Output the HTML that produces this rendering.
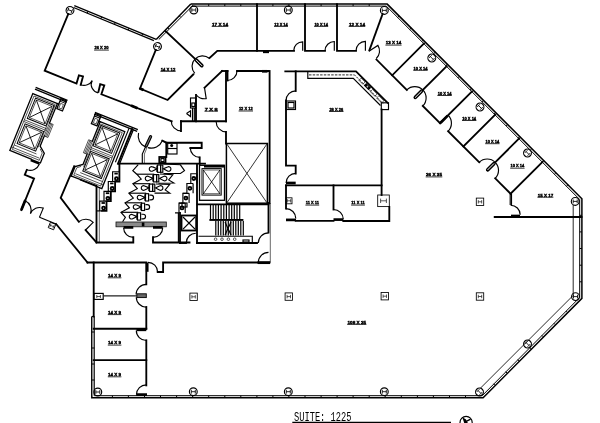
<!DOCTYPE html>
<html><head><meta charset="utf-8"><title>Suite 1225 floor plan</title>
<style>
html,body{margin:0;padding:0;background:#fff;overflow:hidden}
svg{display:block;filter:grayscale(1)}
.w{stroke:#000;stroke-width:1.85;fill:none;stroke-linecap:square;stroke-linejoin:miter}
.k{stroke:#000;stroke-width:2.7;fill:none;stroke-linecap:butt}
.t{stroke:#000;stroke-width:1.15;fill:none}
.g{stroke:#111;stroke-width:0.9;fill:none}
.d{stroke:#000;stroke-width:1.25;fill:none}
.e{stroke:#000;stroke-width:1.5;fill:none;stroke-linejoin:miter}
.d2{stroke:#000;stroke-width:1.0;fill:none}
.t2{stroke:#222;stroke-width:1.2;fill:none}
.bw{stroke:#000;stroke-width:1.3;fill:none;stroke-linecap:square}
.bc{stroke:#000;stroke-width:1.0;fill:none}
.bt{stroke:#000;stroke-width:0.6;fill:none}
.bx{stroke:#000;stroke-width:0.8;fill:none}
.st{stroke:#000;stroke-width:1.15;fill:none;stroke-linejoin:miter}
.hc{stroke:#000;stroke-width:0.85;fill:none}
.hs{stroke:#555;stroke-width:1.2;fill:none}
.sq{stroke:#000;stroke-width:0.85;fill:none}
.m{stroke:#000;stroke-width:1;fill:none}
.h{stroke:#111;stroke-width:0.7;fill:none}
.s{stroke:#000;stroke-width:1.2;fill:none}
.lb{font-family:"Liberation Sans",sans-serif;font-weight:bold;fill:#000;stroke:#000;stroke-width:0.4;text-anchor:middle;letter-spacing:0}
.ti{font-family:"Liberation Mono","Liberation Sans",monospace;fill:#000}
</style></head><body>
<svg width="600" height="423" viewBox="0 0 600 423">
<rect width="600" height="423" fill="#fff"/>
<path class="d" d="M74.3 5.7 L156.2 39.4" />
<path class="d" d="M73.5 7.5 L153.9 40.6" />
<path class="m" d="M87.9 11.3 L87.2 13.2"/>
<path class="m" d="M101.6 16.9 L100.8 18.8"/>
<path class="m" d="M115.2 22.5 L114.5 24.4"/>
<path class="m" d="M128.9 28.2 L128.1 30.0"/>
<path class="m" d="M142.6 33.8 L141.8 35.6"/>
<path class="e" d="M156.2 39.4 L190.8 4.1" />
<path class="d2" d="M158.8 39.5 L193.0 5.4" />
<path class="m" d="M167.7 27.6 L169.1 29.0"/>
<path class="m" d="M179.3 15.9 L180.6 17.2"/>
<path class="e" d="M190.8 4.1 L387.2 4.1 L581.9 198.7 L581.9 298.4 L483.1 397.8 L91.8 397.8 L91.8 316.5" />
<path class="d2" d="M191.8 6.1 L386.3 6.1 L579.7 199.5 L579.7 297.5 L482.2 395.7 L94.4 395.7 L94.4 316.5" />
<path d="M91.8 316.5 H94.4" class="d"/>
<rect x="92.2" y="317" width="2" height="78.5" fill="#999"/>
<path class="m" d="M112.4 395.7 L112.4 397.8"/>
<path class="m" d="M128.4 395.7 L128.4 397.8"/>
<path class="m" d="M144.5 395.7 L144.5 397.8"/>
<path class="m" d="M160.5 395.7 L160.5 397.8"/>
<path class="m" d="M176.6 395.7 L176.6 397.8"/>
<path class="m" d="M192.6 395.7 L192.6 397.8"/>
<path class="m" d="M208.7 4.1 L208.7 6.1"/>
<path class="m" d="M208.7 395.7 L208.7 397.8"/>
<path class="m" d="M224.8 4.1 L224.8 6.1"/>
<path class="m" d="M224.8 395.7 L224.8 397.8"/>
<path class="m" d="M240.8 4.1 L240.8 6.1"/>
<path class="m" d="M240.8 395.7 L240.8 397.8"/>
<path class="m" d="M256.9 4.1 L256.9 6.1"/>
<path class="m" d="M256.9 395.7 L256.9 397.8"/>
<path class="m" d="M272.9 4.1 L272.9 6.1"/>
<path class="m" d="M272.9 395.7 L272.9 397.8"/>
<path class="m" d="M288.9 4.1 L288.9 6.1"/>
<path class="m" d="M288.9 395.7 L288.9 397.8"/>
<path class="m" d="M305.0 4.1 L305.0 6.1"/>
<path class="m" d="M305.0 395.7 L305.0 397.8"/>
<path class="m" d="M321.1 4.1 L321.1 6.1"/>
<path class="m" d="M321.1 395.7 L321.1 397.8"/>
<path class="m" d="M337.1 4.1 L337.1 6.1"/>
<path class="m" d="M337.1 395.7 L337.1 397.8"/>
<path class="m" d="M353.1 4.1 L353.1 6.1"/>
<path class="m" d="M353.1 395.7 L353.1 397.8"/>
<path class="m" d="M369.2 4.1 L369.2 6.1"/>
<path class="m" d="M369.2 395.7 L369.2 397.8"/>
<path class="m" d="M385.2 395.7 L385.2 397.8"/>
<path class="m" d="M401.3 395.7 L401.3 397.8"/>
<path class="m" d="M417.4 395.7 L417.4 397.8"/>
<path class="m" d="M433.4 395.7 L433.4 397.8"/>
<path class="m" d="M449.5 395.7 L449.5 397.8"/>
<path class="m" d="M465.5 395.7 L465.5 397.8"/>
<path class="m" d="M399.1 16.0 L397.7 17.4"/>
<path class="m" d="M411.2 28.1 L409.7 29.5"/>
<path class="m" d="M423.2 40.1 L421.8 41.6"/>
<path class="m" d="M435.3 52.2 L433.8 53.6"/>
<path class="m" d="M447.3 64.2 L445.9 65.7"/>
<path class="m" d="M459.4 76.3 L458.0 77.8"/>
<path class="m" d="M471.5 88.4 L470.0 89.8"/>
<path class="m" d="M483.5 100.4 L482.1 101.9"/>
<path class="m" d="M495.6 112.5 L494.1 113.9"/>
<path class="m" d="M507.6 124.5 L506.2 126.0"/>
<path class="m" d="M519.7 136.6 L518.2 138.1"/>
<path class="m" d="M531.8 148.7 L530.3 150.1"/>
<path class="m" d="M543.8 160.7 L542.4 162.2"/>
<path class="m" d="M555.9 172.8 L554.4 174.2"/>
<path class="m" d="M567.9 184.8 L566.5 186.3"/>
<path class="m" d="M581.9 215.3 L579.7 215.3"/>
<path class="m" d="M581.9 231.9 L579.7 231.9"/>
<path class="m" d="M581.9 248.5 L579.7 248.5"/>
<path class="m" d="M581.9 265.2 L579.7 265.2"/>
<path class="m" d="M581.9 281.8 L579.7 281.8"/>
<path class="m" d="M495.0 385.3 L493.6 383.8"/>
<path class="m" d="M507.1 373.2 L505.7 371.7"/>
<path class="m" d="M519.2 361.1 L517.8 359.6"/>
<path class="m" d="M531.3 349.0 L529.8 347.6"/>
<path class="m" d="M543.4 336.9 L541.9 335.4"/>
<path class="m" d="M555.5 324.8 L554.0 323.3"/>
<path class="m" d="M567.6 312.7 L566.1 311.2"/>
<path class="m" d="M91.8 332.0 L94.4 332.0"/>
<path class="m" d="M91.8 348.0 L94.4 348.0"/>
<path class="m" d="M91.8 364.0 L94.4 364.0"/>
<path class="m" d="M91.8 380.0 L94.4 380.0"/>
<path class="g" d="M573.2 205.0 L573.2 295.4 L480.5 388.1" />
<g transform="translate(70.0 10.4) rotate(22)"><circle class="t" r="3.9" fill="#fff"/><path class="hc" d="M-2 -1.9V1.9M2 -1.9V1.9M-2 0H2"/></g>
<g transform="translate(157.5 46.5) rotate(22)"><circle class="t" r="3.9" fill="#fff"/><path class="hc" d="M-2 -1.9V1.9M2 -1.9V1.9M-2 0H2"/></g>
<g transform="translate(193.8 10.0) rotate(0)"><circle class="t" r="3.9" fill="#fff"/><path class="hc" d="M-2 -1.9V1.9M2 -1.9V1.9M-2 0H2"/></g>
<g transform="translate(288.3 10.0) rotate(0)"><circle class="t" r="3.9" fill="#fff"/><path class="hc" d="M-2 -1.9V1.9M2 -1.9V1.9M-2 0H2"/></g>
<g transform="translate(384.3 10.4) rotate(0)"><circle class="t" r="3.9" fill="#fff"/><path class="hc" d="M-2 -1.9V1.9M2 -1.9V1.9M-2 0H2"/></g>
<g transform="translate(431.8 58.0) rotate(45)"><circle class="t" r="3.9" fill="#fff"/><path class="hc" d="M-2 -1.9V1.9M2 -1.9V1.9M-2 0H2"/></g>
<g transform="translate(480.0 107.0) rotate(45)"><circle class="t" r="3.9" fill="#fff"/><path class="hc" d="M-2 -1.9V1.9M2 -1.9V1.9M-2 0H2"/></g>
<g transform="translate(527.5 153.0) rotate(45)"><circle class="t" r="3.9" fill="#fff"/><path class="hc" d="M-2 -1.9V1.9M2 -1.9V1.9M-2 0H2"/></g>
<g transform="translate(575.2 201.4) rotate(0)"><circle class="t" r="3.9" fill="#fff"/><path class="hc" d="M-2 -1.9V1.9M2 -1.9V1.9M-2 0H2"/></g>
<g transform="translate(575.5 296.6) rotate(0)"><circle class="t" r="3.9" fill="#fff"/><path class="hc" d="M-2 -1.9V1.9M2 -1.9V1.9M-2 0H2"/></g>
<g transform="translate(527.5 344.0) rotate(45)"><circle class="t" r="3.9" fill="#fff"/><path class="hc" d="M-2 -1.9V1.9M2 -1.9V1.9M-2 0H2"/></g>
<g transform="translate(479.5 392.0) rotate(45)"><circle class="t" r="3.9" fill="#fff"/><path class="hc" d="M-2 -1.9V1.9M2 -1.9V1.9M-2 0H2"/></g>
<g transform="translate(384.3 391.7) rotate(0)"><circle class="t" r="3.9" fill="#fff"/><path class="hc" d="M-2 -1.9V1.9M2 -1.9V1.9M-2 0H2"/></g>
<g transform="translate(288.3 391.7) rotate(0)"><circle class="t" r="3.9" fill="#fff"/><path class="hc" d="M-2 -1.9V1.9M2 -1.9V1.9M-2 0H2"/></g>
<g transform="translate(193.3 391.7) rotate(0)"><circle class="t" r="3.9" fill="#fff"/><path class="hc" d="M-2 -1.9V1.9M2 -1.9V1.9M-2 0H2"/></g>
<g transform="translate(97.8 392.0) rotate(0)"><circle class="t" r="3.9" fill="#fff"/><path class="hc" d="M-2 -1.9V1.9M2 -1.9V1.9M-2 0H2"/></g>
<g transform="translate(193.6 296.8) rotate(0)"><rect class="sq" x="-3.7" y="-3.7" width="7.4" height="7.4" fill="#fff"/><path class="h" d="M-1.7 -1.7V1.7M1.7 -1.7V1.7M-1.7 0H1.7"/></g>
<g transform="translate(288.8 296.6) rotate(0)"><rect class="sq" x="-3.7" y="-3.7" width="7.4" height="7.4" fill="#fff"/><path class="h" d="M-1.7 -1.7V1.7M1.7 -1.7V1.7M-1.7 0H1.7"/></g>
<g transform="translate(384.8 296.2) rotate(0)"><rect class="sq" x="-3.7" y="-3.7" width="7.4" height="7.4" fill="#fff"/><path class="h" d="M-1.7 -1.7V1.7M1.7 -1.7V1.7M-1.7 0H1.7"/></g>
<g transform="translate(480.0 296.5) rotate(0)"><rect class="sq" x="-3.7" y="-3.7" width="7.4" height="7.4" fill="#fff"/><path class="h" d="M-1.7 -1.7V1.7M1.7 -1.7V1.7M-1.7 0H1.7"/></g>
<g transform="translate(480.0 201.8) rotate(0)"><rect class="sq" x="-3.7" y="-3.7" width="7.4" height="7.4" fill="#fff"/><path class="h" d="M-1.7 -1.7V1.7M1.7 -1.7V1.7M-1.7 0H1.7"/></g>
<g transform="translate(383.5 200.8) rotate(0)"><rect class="sq" x="-5.8" y="-5.8" width="11.6" height="11.6" fill="#fff"/><path class="h" d="M-2.9 -2.2V2.2M2.9 -2.2V2.2M-2.9 0H2.9"/></g>
<g transform="translate(289.0 200.8) rotate(0)"><rect class="sq" x="-3" y="-3" width="6" height="6" fill="#fff"/><path class="h" d="M-1.7 -1.7V1.7M1.7 -1.7V1.7M-1.7 0H1.7"/></g>
<rect class="t" x="93.9" y="293.4" width="9.3" height="6" fill="#fff"/><path class="h" d="M96.8 295V298M100.4 295V298M96.8 296.5H100.4"/>
<path class="w" d="M68.3 14.0 L44.7 70.7 L76.5 83.6 L78.9 75.4 L83.0 76.4 L80.7 84.8" />
<path class="w" d="M98.4 91.9 L100.2 84.2 L104.3 85.4 L101.4 94.3 L171.7 121.3" />
<path class="t" d="M80.7 84.8 A9.6 9.6 0 0 0 92.3 80.6"/>
<path class="t" d="M98.2 92.9 A8.8 8.8 0 0 1 92.0 80.7"/>
<path class="k" d="M131.0 105.6 L137.5 108.2"/>
<path class="w" d="M155.8 50.0 L140.0 88.5 L167.6 100.0 L193.3 74.4" />
<path class="k" d="M139.5 88.3 L143.5 90.0"/>
<path class="w" d="M165.4 31.0 L196.0 59.8" />
<path d="M196.2 60.0 L201.8 65.6" stroke="#000" stroke-width="3.7" stroke-linecap="round" fill="none"/>
<path d="M196.2 60.0 L201.8 65.6" stroke="#fff" stroke-width="1.0" stroke-linecap="round" fill="none"/>
<path class="t" d="M195.1 58.9 A10.4 10.4 0 0 1 209.2 58.3"/>
<path class="t" d="M195.1 58.9 A10.4 10.4 0 0 0 194.8 73.3"/>
<path class="w" d="M209.6 58.0 L217.3 50.8 L294.0 50.8" />
<path class="w" d="M257.0 4.1 L257.0 50.8"/>
<path class="k" d="M263.0 51.8 L269.0 51.8"/>
<path class="t" d="M293.7 50.8 A9 9 0 0 1 302.7 41.8 L302.7 50.8"/>
<path class="w" d="M305.0 4.1 L305.0 50.8 L325.0 50.8" />
<path class="t" d="M325.0 50.8 A9.3 9.3 0 0 1 334.3 41.5 L334.3 50.8"/>
<path class="w" d="M337.0 4.1 L337.0 50.8 L356.0 50.8" />
<path class="t" d="M356.0 50.8 A9.4 9.4 0 0 1 365.4 41.4 L365.4 50.8"/>
<path class="w" d="M382.6 14.0 L369.3 50.5" />
<path class="t" d="M376.3 58.5 A10.3 10.3 0 0 0 377.9 45.4 L369.3 51.0"/>
<path class="w" d="M376.5 59.6 L406.8 89.9" />
<path class="w" d="M422.8 105.9 L440.1 123.2" />
<path class="w" d="M448.1 131.2 L479.2 162.3" />
<path class="w" d="M495.2 178.3 L510.6 193.7" />
<path class="w" d="M392.2 75.3 L423.9 43.6" />
<path class="w" d="M414.8 97.9 L446.6 66.2" />
<path class="w" d="M440.1 123.2 L471.9 91.5" />
<path class="w" d="M463.4 146.5 L495.1 114.8" />
<path class="w" d="M487.2 170.3 L519.0 138.6" />
<path class="w" d="M510.6 193.7 L542.4 162.0" />
<path d="M415.4 97.3 L421.4 91.3" stroke="#000" stroke-width="3.7" stroke-linecap="round" fill="none"/>
<path d="M415.4 97.3 L421.4 91.3" stroke="#fff" stroke-width="1.0" stroke-linecap="round" fill="none"/>
<path class="t" d="M406.8 89.9 A11.3 11.3 0 0 1 422.8 89.9"/>
<path class="t" d="M422.8 105.9 A11.3 11.3 0 0 0 422.8 89.9"/>
<path d="M487.8 169.7 L493.8 163.7" stroke="#000" stroke-width="3.7" stroke-linecap="round" fill="none"/>
<path d="M487.8 169.7 L493.8 163.7" stroke="#fff" stroke-width="1.0" stroke-linecap="round" fill="none"/>
<path class="t" d="M479.2 162.3 A11.3 11.3 0 0 1 495.2 162.3"/>
<path class="t" d="M495.2 178.3 A11.3 11.3 0 0 0 495.2 162.3"/>
<path class="k" d="M440.6 122.7 L447.7 115.6"/>
<path class="t" d="M448.1 131.2 A11.3 11.3 0 0 0 448.1 115.2"/>
<path class="t" d="M510.2 193.7 L510.2 205.0" />
<path class="t" d="M511.5 193.7 L511.5 205.0" />
<path class="t" d="M510.6 205.2 A9.6 9.6 0 0 1 520.2 214.8"/>
<path class="k" d="M511.0 216.0 L520.0 216.0"/>
<path class="w" d="M494.7 217.0 L581.5 217.0"/>
<path class="w" d="M285.3 71.3 L356.0 71.3 L387.5 102.8" />
<path class="w" d="M295.7 71.3 L295.7 91.0" />
<path class="t" d="M295.7 90.9 A9.6 9.6 0 0 0 286.1 100.5"/>
<path class="w" d="M286.0 100.5 L286.0 165.6 L295.7 165.6 L295.7 173.5" />
<rect class="t" x="286" y="101" width="9.5" height="8.5"/><rect class="t" x="288" y="102.5" width="6" height="5.5"/>
<path class="t" d="M295.7 173.3 A9.6 9.6 0 0 0 286.1 182.9"/>
<path class="k" d="M286.0 183.0 L295.7 183.0"/>
<path class="w" d="M286.0 185.4 L381.6 185.4" />
<path class="w" d="M381.6 109.5 L381.6 195.0" />
<rect class="t" x="381.3" y="102.8" width="7.2" height="6.8" fill="#fff"/>
<path class="t" d="M307.8 71.3 L307.8 78.3 L353.3 78.3 L380.5 105.5" />
<path class="g" stroke-dasharray="2.5 1.2" d="M309 74.9 H354.5 L383 103.5"/>
<g transform="translate(356 71.3) rotate(45)"><rect class="bt" x="8.5" y="1.1" width="5.5" height="3.2" fill="#fff"/><rect x="15.5" y="0.9" width="6.8" height="3.6" fill="#000"/><circle cx="18.9" cy="2.7" r="0.9" fill="#bbb"/><rect class="bt" x="24.5" y="1.1" width="6.5" height="3.2" fill="#fff"/><rect class="bt" x="33.5" y="1.1" width="7" height="3.2" fill="#fff"/></g>
<path class="w" d="M286.0 185.4 L286.0 208.5" />
<path class="t" d="M286.0 208.6 A9.8 9.8 0 0 1 295.8 218.4"/>
<path class="k" d="M286.0 219.9 L296.0 219.9"/>
<path class="w" d="M295.7 220.8 L333.5 220.8" />
<path class="w" d="M333.5 185.4 L333.5 209.5" />
<path class="t" d="M333.5 209.5 A9.8 9.8 0 0 1 343.3 219.3"/>
<path class="k" d="M333.5 219.6 L343.3 219.6" />
<path class="w" d="M343.3 221.0 L389.3 221.0 L389.3 206.8" />
<path class="w" d="M237.0 71.0 L268.5 71.0" />
<path class="k" d="M262.0 71.3 L267.5 71.3"/>
<path class="w" d="M269.6 71.0 L269.6 203.0" />
<path class="w" d="M268.5 203.0 L268.5 232.5" />
<path class="bt" d="M270.3 203.0 L270.3 262.5" />
<path class="w" d="M226.0 71.0 L226.0 121.2" />
<path class="w" d="M226.0 132.0 L226.0 143.5" />
<path class="w" d="M222.0 71.0 L227.5 71.0" />
<path class="w" d="M222.0 71.0 L204.5 87.7" />
<path class="w" d="M227.5 71.0 L227.5 80.5" />
<path class="t" d="M227.5 80.5 A9.5 9.5 0 0 0 237.0 71.0"/>
<path class="t" d="M196.6 95.3 A11 11 0 0 0 206.2 98.6 L204.5 87.7"/>
<path class="w" d="M196.0 95.0 L196.0 121.2" />
<path class="w" d="M181.0 121.2 L226.0 121.2" />
<path class="w" d="M181.0 121.2 L181.0 131.0" />
<path class="t" d="M181.0 130.8 A9.8 9.8 0 0 1 171.2 121.0"/>
<rect class="t" x="190.5" y="98" width="5.3" height="10"/><rect class="t" x="191.8" y="103" width="3" height="3.5"/>
<path class="t" d="M186.5 113.5 L190.5 110.8 L190.5 116.5 L186.5 113.5" />
<path class="t" d="M192.5 108.0 L192.5 121.0" />
<path class="t" d="M194.3 108.0 L194.3 121.0" />
<rect class="e" x="226.4" y="143.5" width="41" height="59.7"/>
<path class="bx" d="M227.0 144.2 L266.8 202.6" />
<path class="bx" d="M266.8 144.2 L227.0 202.6" />
<path class="t" d="M216.2 122.0 A9.8 9.8 0 0 0 226.0 131.8"/>
<rect class="bw" x="199.5" y="165.3" width="25" height="35"/>
<rect class="bc" x="202" y="168.6" width="19.2" height="26.5"/>
<rect class="bt" x="203.3" y="170" width="16.6" height="23.8"/>
<path class="bx" d="M203.3 170.0 L219.9 193.8" />
<path class="bx" d="M219.9 170.0 L203.3 193.8" />
<path class="k" d="M204.0 166.2 L224.5 166.2"/>
<path class="w" d="M162.3 140.7 L166.3 142.7 L201.7 142.7 L201.7 148.0 L190.3 148.0" />
<path class="w" d="M166.3 142.7 L166.3 157.0" />
<path class="t" d="M190.3 148.0 A9.4 9.4 0 0 0 199.7 157.4"/>
<path class="w" d="M199.7 157.4 L199.7 164.0" />
<rect class="t" x="167.7" y="143" width="9.3" height="11"/>
<path class="t" d="M167.7 148.5 H177"/>
<circle cx="171.7" cy="145.4" r="1.5" fill="#000"/>
<rect class="w" x="159.3" y="157" width="6.2" height="6"/>
<rect class="t" x="161" y="158.6" width="3" height="3"/>
<path class="t" d="M138.6 133 A11.8 11.8 0 0 0 145.4 146.9 M148 147.6 A11.8 11.8 0 0 0 162.3 140.7"/>
<path d="M150.6 136.6 L146.2 146" stroke="#000" stroke-width="3.2" stroke-linecap="round" fill="none"/>
<path d="M150.6 136.6 L146.2 146" stroke="#fff" stroke-width="0.5" stroke-linecap="round" fill="none"/>
<path class="st" d="M145.6 146.7 L142.3 154.0 L142.3 163.5" />
<path class="bt" d="M147.0 147.5 L144.4 154.0 L144.4 163.5" />
<path class="w" d="M118.5 163.6 L205.0 163.6" />
<path class="w" d="M119.4 163.6 L119.4 181.5 L115.1 181.5 L115.1 191.3 L110.8 191.3 L110.8 201.1 L106.5 201.1 L106.5 210.9 L102.2 210.9" />
<path class="st" d="M119.4 171.7 H112.6 V181.5"/>
<circle class="w" cx="116.5" cy="178.7" r="1.5"/>
<rect x="114.4" y="172.7" width="3.4" height="1.8" fill="#000"/>
<path class="st" d="M115.1 181.5 H108.3 V191.3"/>
<circle class="w" cx="112.2" cy="188.5" r="1.5"/>
<rect x="110.1" y="182.5" width="3.4" height="1.8" fill="#000"/>
<path class="st" d="M110.8 191.3 H104.0 V201.1"/>
<circle class="w" cx="107.9" cy="198.3" r="1.5"/>
<rect x="105.8" y="192.3" width="3.4" height="1.8" fill="#000"/>
<path class="st" d="M106.5 201.1 H99.7 V210.9"/>
<circle class="w" cx="103.6" cy="208.1" r="1.5"/>
<rect x="101.5" y="202.1" width="3.4" height="1.8" fill="#000"/>
<path class="t" d="M102.2 210.9 L96.5 210.9" />
<path class="st" d="M197.0 173.7 H190.8 V183.5 H186.9"/>
<circle class="w" cx="193.8" cy="178.5" r="1.5"/>
<path class="t" d="M197.0 173.7 V183.5"/>
<path class="st" d="M193.1 183.5 H186.9 V193.3 H182.9"/>
<circle class="w" cx="189.9" cy="188.3" r="1.5"/>
<path class="t" d="M193.1 183.5 V193.3"/>
<path class="st" d="M189.1 193.3 H182.9 V203.1 H179.0"/>
<circle class="w" cx="185.9" cy="198.1" r="1.5"/>
<path class="t" d="M189.1 193.3 V203.1"/>
<path class="st" d="M185.2 203.1 H179.0 V212.9 H175.0"/>
<circle class="w" cx="182.0" cy="207.9" r="1.5"/>
<path class="t" d="M185.2 203.1 V212.9"/>
<rect class="t" x="182" y="203" width="5" height="4"/>
<path class="st" d="M138.2 164.6 L132.8 170.6 L136.8 174.2 L141.2 179.2 L132.9 183.7 L137.3 188.7 L128.9 193.2 L133.3 198.2 L125.0 202.8 L129.4 207.8 L121.0 212.3 L125.4 217.3 L122.6 221.8" />
<rect class="t" x="157.5" y="165.0" width="3.1" height="7.3"/>
<path class="st" d="M157.0 168.8 L152.7 166.9 A2.3 2.3 0 1 0 152.7 170.9 Z"/>
<path class="t" d="M156.9 165.5 V172.0"/>
<rect class="t" x="160.6" y="165.0" width="2.2" height="7.3"/>
<path class="st" d="M163.4 168.8 L167.5 166.9 A2.3 2.3 0 1 1 167.5 170.9 Z"/>
<rect class="t" x="153.5" y="174.6" width="3.1" height="7.3"/>
<path class="st" d="M153.0 178.4 L148.7 176.5 A2.3 2.3 0 1 0 148.7 180.5 Z"/>
<path class="t" d="M152.9 175.1 V181.6"/>
<path class="st" d="M136.8 174.2 H154.2"/>
<rect class="t" x="156.6" y="174.6" width="2.2" height="7.3"/>
<path class="st" d="M159.4 178.4 L163.5 176.5 A2.3 2.3 0 1 1 163.5 180.5 Z"/>
<rect class="t" x="149.5" y="184.1" width="3.1" height="7.3"/>
<path class="st" d="M149.0 187.9 L144.7 186.0 A2.3 2.3 0 1 0 144.7 190.0 Z"/>
<path class="t" d="M148.9 184.6 V191.1"/>
<path class="st" d="M132.9 183.7 H150.2"/>
<rect class="t" x="152.6" y="184.1" width="2.2" height="7.3"/>
<path class="st" d="M155.4 187.9 L159.5 186.0 A2.3 2.3 0 1 1 159.5 190.0 Z"/>
<rect class="t" x="145.5" y="193.7" width="3.1" height="7.3"/>
<path class="st" d="M145.0 197.5 L140.7 195.6 A2.3 2.3 0 1 0 140.7 199.6 Z"/>
<path class="t" d="M144.9 194.2 V200.7"/>
<path class="st" d="M128.9 193.2 H146.2"/>
<path class="st" d="M149.4 195.1 H151.2 A2.3 2.3 0 0 1 151.2 199.8 H149.4"/>
<rect class="t" x="141.5" y="203.2" width="3.1" height="7.3"/>
<path class="st" d="M141.0 207.0 L136.7 205.1 A2.3 2.3 0 1 0 136.7 209.1 Z"/>
<path class="t" d="M140.9 203.7 V210.2"/>
<path class="st" d="M125.0 202.8 H142.2"/>
<path class="st" d="M145.4 204.6 H147.2 A2.3 2.3 0 0 1 147.2 209.4 H145.4"/>
<rect class="t" x="137.5" y="212.8" width="3.1" height="7.3"/>
<path class="st" d="M137.0 216.6 L132.7 214.7 A2.3 2.3 0 1 0 132.7 218.7 Z"/>
<path class="t" d="M136.9 213.2 V219.8"/>
<path class="st" d="M121.0 212.3 H138.2"/>
<path class="st" d="M141.4 214.2 H143.2 A2.3 2.3 0 0 1 143.2 218.9 H141.4"/>
<path class="st" d="M163.5 164.0 L180.4 164.8 L184.5 170.7 L180.4 173.5 L163.5 173.5" />
<path class="st" d="M160.0 174.0 L172.8 174.8 L168.7 179.9 L173.8 183.0 L158.5 183.2" />
<path class="st" d="M156.0 184.0 L169.8 184.4 L165.2 190.0 L169.8 193.1 L154.5 193.1" />
<rect x="116" y="222" width="50.3" height="4.8" fill="#8a8a8a" stroke="#111" stroke-width="0.8"/>
<rect x="141.8" y="222.5" width="2.6" height="3.8" fill="#000"/>
<path class="k" d="M123.6 227.4 L133.3 227.4"/>
<path class="k" d="M153.0 227.4 L162.7 227.4"/>
<path class="t" d="M123.6 227.7 A9.7 9.7 0 0 0 133.3 237.4"/>
<path class="t" d="M162.7 227.7 A9.7 9.7 0 0 1 153.0 237.4"/>
<path class="w" d="M96.5 186.3 L96.5 242.5 L133.3 242.5 L133.3 237.2" />
<path class="bt" d="M99.3 188.0 L99.3 242.0" />
<path class="w" d="M153.0 237.2 L153.0 242.5 L189.5 242.5" />
<path class="w" d="M197.5 204.3 L268.5 204.3" />
<path class="w" d="M197.0 164.5 L197.0 243.0" />
<path class="w" d="M197.0 243.0 L257.0 243.0" />
<path class="t" d="M198.5 236.2 L252.3 236.2 L252.3 243.0" />
<path class="s" d="M210.5 204.8 L210.5 219.0"/>
<path class="s" d="M215.8 221.0 L215.8 235.5"/>
<path class="s" d="M213.2 204.8 L213.2 219.0"/>
<path class="s" d="M218.3 221.0 L218.3 235.5"/>
<path class="s" d="M215.8 204.8 L215.8 219.0"/>
<path class="s" d="M220.8 221.0 L220.8 235.5"/>
<path class="s" d="M218.4 204.8 L218.4 219.0"/>
<path class="s" d="M223.3 221.0 L223.3 235.5"/>
<path class="s" d="M221.1 204.8 L221.1 219.0"/>
<path class="s" d="M225.8 221.0 L225.8 235.5"/>
<path class="s" d="M223.8 204.8 L223.8 219.0"/>
<path class="s" d="M228.3 221.0 L228.3 235.5"/>
<path class="s" d="M226.4 204.8 L226.4 219.0"/>
<path class="s" d="M230.8 221.0 L230.8 235.5"/>
<path class="s" d="M229.1 204.8 L229.1 219.0"/>
<path class="s" d="M233.3 221.0 L233.3 235.5"/>
<path class="s" d="M231.7 204.8 L231.7 219.0"/>
<path class="s" d="M235.8 221.0 L235.8 235.5"/>
<path class="s" d="M234.3 204.8 L234.3 219.0"/>
<path class="s" d="M238.3 221.0 L238.3 235.5"/>
<path class="s" d="M237.0 204.8 L237.0 219.0"/>
<path class="s" d="M240.8 221.0 L240.8 235.5"/>
<path class="s" d="M239.7 204.8 L239.7 219.0"/>
<path class="s" d="M243.3 221.0 L243.3 235.5"/>
<rect x="209.4" y="219" width="34" height="1.9" fill="#000"/>
<path class="t" d="M225.0 222.0 L231.0 235.0" />
<path class="t" d="M231.0 222.0 L225.0 235.0" />
<circle class="h" cx="215.6" cy="239.2" r="1.3"/>
<circle class="h" cx="222.0" cy="239.2" r="1.3"/>
<circle class="h" cx="228.4" cy="239.2" r="1.3"/>
<circle class="h" cx="234.7" cy="239.2" r="1.3"/>
<rect class="t" x="243" y="240" width="6" height="2"/>
<path class="t" d="M258.3 243.0 A10.2 10.2 0 0 1 268.5 232.8"/>
<path class="t" d="M258.3 262.5 A10.2 10.2 0 0 1 268.5 252.3"/>
<path class="k" d="M257.5 262.7 L270.0 262.7" />
<rect class="w" x="181.5" y="215.5" width="14.7" height="15"/>
<path class="t" d="M183.0 217.0 L195.0 229.2" />
<path class="t" d="M195.0 217.0 L183.0 229.2" />
<path class="w" d="M180.0 213.0 L180.0 243.0" />
<path class="t" d="M186.3 242.7 A9.5 9.5 0 0 1 195.8 233.2"/>
<path class="w" d="M180.0 243.0 L186.0 243.0" />
<path class="t" d="M178.4 213.0 L178.4 243.0" />
<path class="w" d="M87.5 262.5 L146.3 262.5 L146.3 284.2" />
<path class="k" d="M147.2 262.5 L147.2 271.8"/>
<path class="t" d="M148.0 262.4 A9.6 9.6 0 0 1 157.6 272.0"/>
<path class="w" d="M157.7 272.0 L163.1 272.0 L163.1 262.5 L269.5 262.5" />
<path class="w" d="M93.7 262.5 L93.7 316.5" />
<path class="t2" d="M103.2 295.8 L137.0 295.8"/>
<path class="w" d="M93.7 328.7 L146.3 328.7"/>
<path class="w" d="M93.7 360.1 L146.3 360.1"/>
<rect x="136.9" y="293.8" width="9.4" height="3.8" fill="#666" stroke="#000" stroke-width="0.9"/>
<path class="t" d="M146.3 284.3 A10.2 10.2 0 0 0 136.1 294.5"/>
<path class="t" d="M136.3 297.2 A10 10 0 0 0 146.3 307.2"/>
<path class="w" d="M146.3 307.0 L146.3 328.7" />
<path class="k" d="M136.5 329.8 L146.3 329.8"/>
<path class="t" d="M136.3 330.5 A10 10 0 0 0 146.3 340.5"/>
<path class="w" d="M146.3 340.3 L146.3 385.4" />
<path class="t" d="M146.3 384.8 A9.8 9.8 0 0 0 136.5 394.6"/>
<path class="k" d="M136.2 394.6 L147.0 394.6"/>
<g transform="translate(32.8 93.6) rotate(22)">
<path class="bw" d="M1 -6.8 H34 M1 -4.9 H34"/><rect class="bw" x="28" y="-5.9" width="6" height="10.9"/><rect class="bt" x="29.5" y="-1.4" width="3" height="4.9" fill="#fff"/><path class="bc" d="M28 -3.2 H34"/><path class="bw" d="M28 0 H0 V61.3 H23"/><path class="bw" d="M26.5 0 V21 M26.5 35 V46 L33 51 V61.3"/><path class="bt" d="M2 1.8 H24.8 M2 1.8 V59.5 M25 1.8 V48 "/><path class="bt" d="M2 27.4 H26 M2 29.2 H26 M2 54.6 H26 M0.5 57.4 H30 M2 59.4 H31 M27.5 48.5 L31 51.5 V59.5"/><rect class="bc" x="4.2" y="3.1" width="20" height="21.9"/><rect class="bt" x="5.7" y="4.6" width="17" height="18.9"/><path class="bx" d="M5.7 4.6 L22.7 23.5 M22.7 4.6 L5.7 23.5"/><rect class="bc" x="4.2" y="31" width="20" height="21.2"/><rect class="bt" x="5.7" y="32.5" width="17" height="18.2"/><path class="bx" d="M5.7 32.5 L22.7 50.7 M22.7 32.5 L5.7 50.7"/><rect class="bt" x="26.5" y="21" width="4" height="14" fill="#fff"/><path class="bt" d="M27.8 21 V35 M29.1 21 V35"/>
<path class="k" d="M23 62.3 H32.5"/>
<path class="t" d="M32.5 62.8 A9.8 9.8 0 0 1 23 72.8"/>
<path class="w" d="M23 73 V78.3 H33 V112.3"/>
<path class="k" d="M33 101.5 V112.3"/>
<path class="t" d="M33 102.3 A10 10 0 0 1 42.8 112.3 A10 10 0 0 1 52.6 102.3 L52.5 112.3"/>
</g>
<path class="st" d="M39.5 217.2 L56.1 224.0" />
<path class="w" d="M56.1 224.0 L87.5 262.5" />
<g transform="translate(52.0 226.0) rotate(22)"><rect class="sq" x="-2.9" y="-2.9" width="5.8" height="5.8" fill="#fff"/><path class="h" d="M-1.7 -1.7V1.7M1.7 -1.7V1.7M-1.7 0H1.7"/></g>
<g transform="translate(95.3 113.1) rotate(22) translate(34.3 6.2) scale(-1 1)">
<path class="bw" d="M-10.7 -6.8 H34.3 M-10.7 -4.9 H34.3"/><rect class="bw" x="28" y="-5.9" width="6" height="10.9"/><rect class="bt" x="29.5" y="-1.4" width="3" height="4.9" fill="#fff"/><path class="bc" d="M28 -3.2 H34"/><path class="bw" d="M28 0 H0 V61.3 H23"/><path class="bw" d="M26.5 0 V21 M26.5 35 V46 L33 51 V61.3"/><path class="bt" d="M2 1.8 H24.8 M2 1.8 V59.5 M25 1.8 V48 "/><path class="bt" d="M2 27.4 H26 M2 29.2 H26 M2 54.6 H26 M0.5 57.4 H30 M2 59.4 H31 M27.5 48.5 L31 51.5 V59.5"/><rect class="bc" x="4.2" y="3.1" width="20" height="21.9"/><rect class="bt" x="5.7" y="4.6" width="17" height="18.9"/><path class="bx" d="M5.7 4.6 L22.7 23.5 M22.7 4.6 L5.7 23.5"/><rect class="bc" x="4.2" y="31" width="20" height="21.2"/><rect class="bt" x="5.7" y="32.5" width="17" height="18.2"/><path class="bx" d="M5.7 32.5 L22.7 50.7 M22.7 32.5 L5.7 50.7"/><rect class="bt" x="26.5" y="21" width="4" height="14" fill="#fff"/><path class="bt" d="M27.8 21 V35 M29.1 21 V35"/>
</g>
<path class="t" d="M129.2 127.9 L115.4 162.2" />
<path class="w" d="M132.0 129.0 L118.0 163.7" />
<path class="d" d="M133.4 129.6 L119.7 163.4" />
<path class="w" d="M74.2 166.2 L60.7 197.8 L78.8 221.8" />
<path class="bw" d="M70.8 175.8 L96.5 185.6" />
<path class="t" d="M78.8 221.8 A10.7 10.7 0 0 1 93.2 222.3 L85.6 230"/>
<path class="w" d="M85.6 230.0 L96.5 242.5" />
<g style="opacity:0.995">
<text x="101.5" y="49.4" class="lb" font-size="4.3" textLength="14.2" lengthAdjust="spacingAndGlyphs">26 X 20</text>
<path d="M94.1 50.1 H108.9" stroke="#000" stroke-width="0.8"/>
<text x="168.0" y="70.6" class="lb" font-size="4.3" textLength="14.6" lengthAdjust="spacingAndGlyphs">14 X 12</text>
<path d="M160.4 71.3 H175.6" stroke="#000" stroke-width="0.8"/>
<text x="220.0" y="25.6" class="lb" font-size="4.3" textLength="16" lengthAdjust="spacingAndGlyphs">17 X 14</text>
<path d="M211.7 26.4 H228.3" stroke="#000" stroke-width="0.8"/>
<text x="281.0" y="25.6" class="lb" font-size="4.3" textLength="13.4" lengthAdjust="spacingAndGlyphs">12 X 14</text>
<path d="M274.0 26.4 H288.0" stroke="#000" stroke-width="0.8"/>
<text x="321.2" y="25.6" class="lb" font-size="4.3" textLength="13.5" lengthAdjust="spacingAndGlyphs">10 X 14</text>
<path d="M314.1 26.4 H328.2" stroke="#000" stroke-width="0.8"/>
<text x="357.0" y="25.6" class="lb" font-size="4.3" textLength="16" lengthAdjust="spacingAndGlyphs">12 X 14</text>
<path d="M348.7 26.4 H365.3" stroke="#000" stroke-width="0.8"/>
<text x="393.5" y="44.4" class="lb" font-size="4.3" textLength="15.5" lengthAdjust="spacingAndGlyphs">13 X 14</text>
<path d="M385.4 45.1 H401.6" stroke="#000" stroke-width="0.8"/>
<text x="420.5" y="69.6" class="lb" font-size="4.3" textLength="13.8" lengthAdjust="spacingAndGlyphs">10 X 14</text>
<path d="M413.3 70.3 H427.7" stroke="#000" stroke-width="0.8"/>
<text x="444.6" y="94.7" class="lb" font-size="4.3" textLength="13.8" lengthAdjust="spacingAndGlyphs">10 X 14</text>
<path d="M437.4 95.5 H451.8" stroke="#000" stroke-width="0.8"/>
<text x="469.2" y="119.8" class="lb" font-size="4.3" textLength="13.8" lengthAdjust="spacingAndGlyphs">10 X 14</text>
<path d="M462.0 120.5 H476.4" stroke="#000" stroke-width="0.8"/>
<text x="492.4" y="142.9" class="lb" font-size="4.3" textLength="13.8" lengthAdjust="spacingAndGlyphs">10 X 14</text>
<path d="M485.2 143.7 H499.6" stroke="#000" stroke-width="0.8"/>
<text x="517.4" y="167.4" class="lb" font-size="4.3" textLength="13.8" lengthAdjust="spacingAndGlyphs">10 X 14</text>
<path d="M510.2 168.2 H524.6" stroke="#000" stroke-width="0.8"/>
<text x="545.4" y="196.5" class="lb" font-size="4.3" textLength="15.5" lengthAdjust="spacingAndGlyphs">15 X 17</text>
<path d="M537.4 197.2 H553.4" stroke="#000" stroke-width="0.8"/>
<text x="211.2" y="110.5" class="lb" font-size="4.3" textLength="13" lengthAdjust="spacingAndGlyphs">7 X 8</text>
<path d="M204.4 111.2 H218.0" stroke="#000" stroke-width="0.8"/>
<text x="245.8" y="110.3" class="lb" font-size="4.3" textLength="13.8" lengthAdjust="spacingAndGlyphs">12 X 12</text>
<path d="M238.6 111.0 H253.0" stroke="#000" stroke-width="0.8"/>
<text x="336.3" y="110.8" class="lb" font-size="4.3" textLength="13.8" lengthAdjust="spacingAndGlyphs">28 X 26</text>
<path d="M329.1 111.5 H343.5" stroke="#000" stroke-width="0.8"/>
<text x="434.0" y="176.2" class="lb" font-size="4.3" textLength="16" lengthAdjust="spacingAndGlyphs">36 X 35</text>
<path d="M425.7 176.9 H442.3" stroke="#000" stroke-width="0.8"/>
<text x="312.3" y="204.3" class="lb" font-size="4.3" textLength="13.3" lengthAdjust="spacingAndGlyphs">11 X 11</text>
<path d="M305.4 205.1 H319.2" stroke="#000" stroke-width="0.8"/>
<text x="358.0" y="204.3" class="lb" font-size="4.3" textLength="13.3" lengthAdjust="spacingAndGlyphs">11 X 11</text>
<path d="M351.1 205.1 H364.9" stroke="#000" stroke-width="0.8"/>
<text x="114.6" y="277.0" class="lb" font-size="4.3" textLength="13" lengthAdjust="spacingAndGlyphs">14 X 9</text>
<path d="M107.8 277.8 H121.4" stroke="#000" stroke-width="0.8"/>
<text x="114.6" y="313.8" class="lb" font-size="4.3" textLength="13" lengthAdjust="spacingAndGlyphs">14 X 9</text>
<path d="M107.8 314.6 H121.4" stroke="#000" stroke-width="0.8"/>
<text x="114.6" y="344.4" class="lb" font-size="4.3" textLength="13" lengthAdjust="spacingAndGlyphs">14 X 9</text>
<path d="M107.8 345.1 H121.4" stroke="#000" stroke-width="0.8"/>
<text x="114.6" y="376.0" class="lb" font-size="4.3" textLength="13" lengthAdjust="spacingAndGlyphs">14 X 9</text>
<path d="M107.8 376.8 H121.4" stroke="#000" stroke-width="0.8"/>
<text x="356.8" y="323.6" class="lb" font-size="4.3" textLength="18.5" lengthAdjust="spacingAndGlyphs">108 X 35</text>
<path d="M347.2 324.4 H366.4" stroke="#000" stroke-width="0.8"/>
</g>
<g style="opacity:0.995">
<text transform="translate(294 420.7) scale(0.66 1)" class="ti" font-size="13.2">SUITE: 1225</text>
</g>
<path class="e" d="M292.3 422.4 L451.0 422.4"/>
<circle class="t" cx="466.1" cy="422.4" r="6.1" fill="#fff"/><path d="M462.2 417 L466 419.6 L467.8 423 L464.2 423 Z" fill="#000"/><path d="M466.3 421.4 L470.6 419.2" stroke="#000" stroke-width="1.3" fill="none"/>
</svg>
</body></html>
